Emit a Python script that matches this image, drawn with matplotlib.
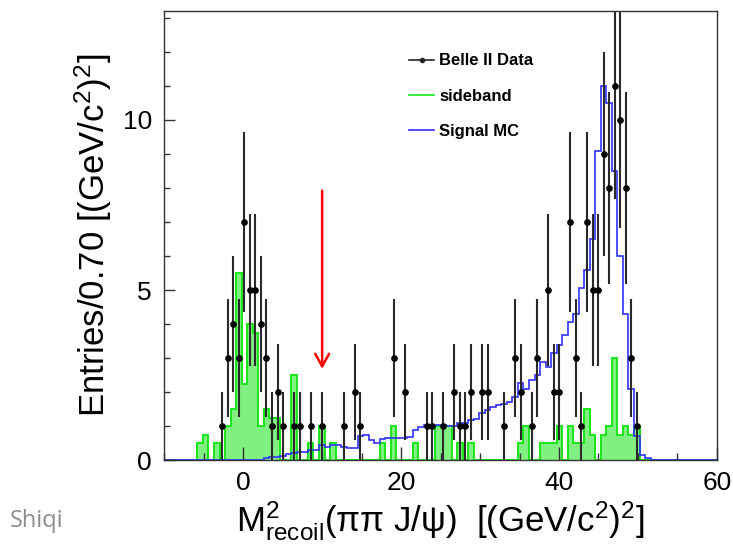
import numpy as np
import matplotlib
matplotlib.use("Agg")
import matplotlib.pyplot as plt
from matplotlib.lines import Line2D
from matplotlib.ticker import MultipleLocator

plt.rcParams['font.family'] = ['Liberation Sans', 'DejaVu Sans']
plt.rcParams['mathtext.fontset'] = 'custom'
plt.rcParams['mathtext.rm'] = 'Liberation Sans'
plt.rcParams['mathtext.it'] = 'Liberation Sans'

# 100 bins of 0.70 between -10 and 60
bin_edges = np.linspace(-10, 60, 101)

data_counts = [
    0, 0, 0, 0, 0, 0, 0, 0, 0, 0,
    1, 3, 4, 3, 7, 5, 5, 4, 3, 1,
    2, 1, 0, 1, 1, 0, 1, 0, 1, 0,
    0, 0, 1, 0, 2, 1, 0, 0, 0, 0,
    0, 3, 0, 2, 0, 0, 0, 1, 1, 0,
    1, 0, 2, 1, 1, 2, 0, 2, 2, 0,
    0, 1, 0, 3, 2, 0, 1, 3, 0, 5,
    2, 2, 0, 7, 3, 1, 7, 5, 5, 9,
    8, 11, 10, 8, 3, 1, 0, 0, 0, 0,
    0, 0, 0, 0, 0, 0, 0, 0, 0, 0,
]

sideband = [
    0, 0, 0, 0, 0, 0, 0.5, 0.75, 0, 0.5,
    0, 1.0, 1.5, 5.5, 2.25, 4.0, 3.75, 1.0, 1.5, 1.25,
    1.25, 0, 0, 2.5, 0, 0, 0.5, 0, 1.0, 0,
    0.5, 0, 0, 0, 0, 0, 0, 0, 0, 0.5,
    0, 1.0, 0, 0, 0, 0.5, 0, 0, 0, 1.0,
    1.0, 1.0, 0, 0.5, 0, 0.5, 0, 0, 0, 0,
    0, 0, 0, 0, 0.5, 1.0, 0, 0, 0.5, 0.5,
    0.5, 1.0, 0, 1.0, 0.5, 0.5, 1.5, 0.75, 0, 0.75,
    1.0, 3.0, 0.75, 1.0, 0.75, 1.0, 0, 0, 0, 0,
    0, 0, 0, 0, 0, 0, 0, 0, 0, 0,
]

signal_mc = [
    0, 0, 0, 0, 0, 0, 0, 0, 0, 0,
    0, 0, 0, 0, 0, 0, 0, 0, 0.05, 0.08,
    0.1, 0.13, 0.18, 0.22, 0.25, 0.25, 0.3, 0.3, 0.45, 0.37,
    0.45, 0.45, 0.37, 0.35, 0.35, 0.72, 0.74, 0.6, 0.5, 0.62,
    0.64, 0.64, 0.65, 0.65, 0.68, 0.88, 0.98, 1.03, 1.03, 1.03,
    1.03, 1.0, 1.0, 1.08, 1.1, 1.18, 1.2, 1.38, 1.48, 1.56,
    1.62, 1.65, 1.72, 1.86, 2.26, 2.1, 2.35, 2.5, 2.87, 2.75,
    3.14, 3.38, 3.68, 4.07, 4.3, 5.05, 5.6, 6.5, 9.1, 11.0,
    10.5, 8.5, 6.0, 4.3, 2.1, 0.7, 0.15, 0.05, 0, 0,
    0, 0, 0, 0, 0, 0, 0, 0, 0, 0,
]

cut_value = 10.0
cut_arrow_top = 8.0
cut_arrow_tip = 2.6


def main():
    counts = np.array(data_counts, dtype=float)
    centers = 0.5 * (bin_edges[:-1] + bin_edges[1:])

    fig = plt.figure(figsize=(7.33, 5.5), dpi=100)
    ax = fig.add_axes([0.2241, 0.1636, 0.7539, 0.8173])

    # sideband: filled histogram with a bright outline
    ax.stairs(sideband, bin_edges, fill=True, color='#80f080', lw=0)
    ax.stairs(sideband, bin_edges, color='#19e619', lw=1.4)
    # signal MC outline
    ax.stairs(signal_mc, bin_edges, color='#3030ff', lw=1.2)

    # data with sqrt(N) errors, empty bins skipped
    mask = counts > 0
    ax.errorbar(centers[mask], counts[mask], yerr=np.sqrt(counts[mask]),
                fmt='o', ms=3.8, color='black', ecolor='#2a2a2a',
                elinewidth=1.5, capsize=0, zorder=5)

    # cut position
    ax.annotate('', xy=(cut_value, cut_arrow_tip), xytext=(cut_value, cut_arrow_top),
                arrowprops=dict(arrowstyle='->,head_length=0.45,head_width=0.25',
                                color='red', lw=1.8, mutation_scale=20))

    ax.set_xlim(-10, 60)
    ax.set_ylim(0, 13.22)
    ax.xaxis.set_major_locator(MultipleLocator(20))
    ax.xaxis.set_minor_locator(MultipleLocator(5))
    ax.yaxis.set_major_locator(MultipleLocator(5))
    ax.yaxis.set_minor_locator(MultipleLocator(1))
    ax.tick_params(which='both', direction='in', top=False, right=False,
                   color='#333333', width=1, labelsize=19)
    ax.tick_params(axis='y', which='major', length=8, pad=9)
    ax.tick_params(axis='y', which='minor', length=4)
    ax.tick_params(axis='x', which='major', length=9.5, pad=8)
    ax.tick_params(axis='x', which='minor', length=5)
    for s in ax.spines.values():
        s.set_color('#333333')
        s.set_linewidth(1)

    ax.set_ylabel(r'Entries/0.70 [(GeV/c$^{2}$)$^{2}$]', fontsize=25, labelpad=6)
    ax.set_xlabel(r'M$^{2}_{\mathrm{recoil}}$($\pi\pi$ J/$\psi$)  [(GeV/c$^{2}$)$^{2}$]',
                  fontsize=25, labelpad=3)

    handles = [
        Line2D([], [], color='#262626', marker='o', ms=3, lw=1.2),
        Line2D([], [], color='#19e619', lw=1.2),
        Line2D([], [], color='#3030ff', lw=1.2),
    ]
    labels = ['Belle II Data', 'sideband', 'Signal MC']
    ax.legend(handles, labels, loc='upper left', bbox_to_anchor=(401 / 733, 1 - 45 / 550),
              bbox_transform=fig.transFigure, frameon=False, borderpad=0,
              handlelength=1.5, handletextpad=0.3, labelspacing=1.22,
              prop={'weight': 'bold', 'size': 12})

    fig.text(10 / 733, 1 - 527 / 550, 'Shiqi', fontsize=17, color='#8c8c8c',
             family=['Open Sans', 'DejaVu Sans'])

    fig.savefig('out.png', dpi=100)


if __name__ == "__main__":
    main()
